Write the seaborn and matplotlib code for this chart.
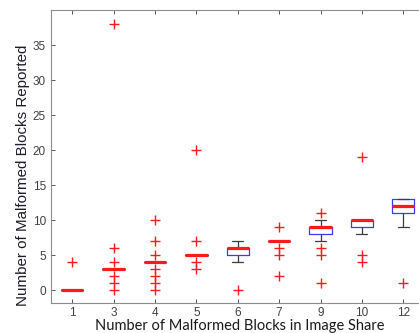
import pandas as pd
import matplotlib.pyplot as plt
import seaborn as sns

# values, one list per category on the x axis
share_labels = ['1', '3', '4', '5', '6', '7', '9', '10', '12']
g1 = [0, 0, 0, 0, 0, 0, 0, 0, 4]
g3 = [0, 1, 2] + [3] * 12 + [4, 6, 38]
g4 = [0, 1, 2, 3] + [4] * 14 + [5, 7, 10]
g5 = [3, 4] + [5] * 10 + [7, 20]
g6 = [0, 4, 5, 5, 5, 6, 6, 6, 6, 6, 6, 7]
g7 = [2, 5, 6] + [7] * 12 + [9]
g9 = [1, 5, 6, 7, 8, 8, 8, 8, 9, 9, 9, 9, 9, 9, 9, 9, 10, 11]
g10 = [4, 5, 8, 9, 9, 9, 10, 10, 10, 10, 10, 10, 10, 19]
g12 = [1, 9, 11, 11, 11, 12, 12, 12, 13, 13, 13, 13]

groups = [g1, g3, g4, g5, g6, g7, g9, g10, g12]
rows = []
for lab, vals in zip(share_labels, groups):
    for v in vals:
        rows.append({'share': lab, 'reported': v})
df = pd.DataFrame(rows)

sns.set_theme(style="white")
plt.rcParams['font.family'] = ['Liberation Sans', 'DejaVu Sans']

fig = plt.figure(figsize=(4.19, 3.33), dpi=100)
ax = fig.add_axes([0.1229, 0.0892, 0.889, 0.8808])

sns.boxplot(data=df, x='share', y='reported', order=share_labels, ax=ax,
            width=0.54, whis=1.5, fill=False, color='blue', linewidth=0.9,
            boxprops=dict(color='#3a3aff'),
            medianprops=dict(color='#ff1a1a', linewidth=2.3),
            whiskerprops=dict(color='#3c3c3c', linewidth=0.9),
            capprops=dict(color='#3c3c3c', linewidth=0.9),
            flierprops=dict(marker='+', markeredgecolor='#ff1a1a',
                            markersize=6.5, markeredgewidth=1.0))

ax.set_xlim(-0.5, 8.5)
ax.set_ylim(-1.85, 40)
ax.set_yticks(range(0, 40, 5))

for s in ax.spines.values():
    s.set_color('#8c8c8c')
    s.set_linewidth(0.8)

ax.tick_params(direction='in', length=3, width=0.7, color='#555555',
               labelcolor='#404040', labelsize=8.5, top=True, right=True,
               bottom=True, left=True, pad=4)
ax.tick_params(axis='x', pad=3)

ax.set_xlabel('Number of Malformed Blocks in Image Share',
              fontsize=10.5, color='#1a1a1a', family=['Lato', 'DejaVu Sans'])
ax.set_ylabel('Number of Malformed Blocks Reported',
              fontsize=10.9, color='#1c1c2c')
ax.xaxis.set_label_coords(0.506, -0.053)
ax.yaxis.set_label_coords(-0.058, 0.435)

plt.savefig('out.png', dpi=100)
plt.close()
